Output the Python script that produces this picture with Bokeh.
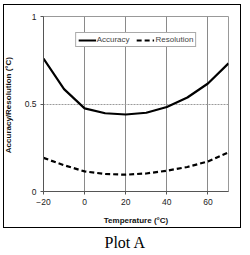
from bokeh.plotting import figure
from bokeh.models import (FixedTicker, Legend, LegendItem, Title, InlineStyleSheet)
from bokeh.embed import file_html
from bokeh.resources import INLINE

temps = [-20, -10, 0, 10, 20, 30, 40, 50, 60, 70]
accuracy = [0.76, 0.585, 0.475, 0.447, 0.44, 0.45, 0.483, 0.537, 0.617, 0.732]
resolution = [0.192, 0.15, 0.115, 0.1, 0.096, 0.103, 0.119, 0.14, 0.172, 0.224]
x_ticks = [-20, 0, 20, 40, 60]
y_ticks = [0, 0.5, 1]
y_tick_labels = {0: "0", 0.5: "0.5", 1: "1"}

p = figure(width=250, height=255, output_backend="svg", toolbar_location=None,
           x_range=(-20, 70), y_range=(0, 1),
           min_border_left=42, min_border_right=22, min_border_top=16, min_border_bottom=64)
p.background_fill_color = "white"
p.border_fill_color = "white"
p.outline_line_color = "#999999"
p.outline_line_width = 1

r1 = p.line(temps, accuracy, line_color="black", line_width=2.2)
r2 = p.line(temps, resolution, line_color="black", line_width=2.2, line_dash="5 3")

p.xaxis.ticker = FixedTicker(ticks=x_ticks)
p.yaxis.ticker = FixedTicker(ticks=y_ticks)
p.yaxis.major_label_overrides = y_tick_labels
for ax in (p.xaxis[0], p.yaxis[0]):
    ax.axis_line_color = "#555555"
    ax.major_tick_line_color = "#555555"
    ax.major_tick_out = 3
    ax.major_tick_in = 0
    ax.minor_tick_line_color = None
    ax.major_label_text_font = "Liberation Sans"
    ax.major_label_text_font_size = "8.5px"
    ax.major_label_text_color = "#222222"
    ax.axis_label_text_font = "Liberation Sans"
    ax.axis_label_text_font_size = "8px"
    ax.axis_label_text_font_style = "bold"
    ax.axis_label_text_color = "#111111"
p.xaxis.axis_label = "Temperature (°C)"
p.yaxis.axis_label = "Accuracy/Resolution  (°C)"
p.xaxis.major_label_standoff = 4
p.xaxis.axis_label_standoff = 8
p.yaxis.major_label_standoff = 4
p.yaxis.axis_label_standoff = 9

p.xgrid.ticker = FixedTicker(ticks=x_ticks)
p.ygrid.ticker = FixedTicker(ticks=y_ticks)
p.xgrid.grid_line_color = "#8a8a8a"
p.ygrid.grid_line_color = "#9a9a9a"
p.ygrid.grid_line_dash = "2 1"

legend = Legend(items=[LegendItem(label="Accuracy", renderers=[r1]),
                       LegendItem(label="Resolution", renderers=[r2])],
                orientation="horizontal", location="top_center")
legend.margin = 16
legend.padding = 2
legend.spacing = 7
legend.label_text_font = "Liberation Sans"
legend.label_text_font_size = "8px"
legend.label_height = 8
legend.glyph_height = 8
legend.glyph_width = 18
legend.label_standoff = 1
legend.border_line_color = "#555555"
legend.border_line_width = 1
legend.background_fill_alpha = 1
p.add_layout(legend, "center")

caption = Title(text="Plot A", align="left", text_font="Liberation Serif",
                text_font_size="16px", text_font_style="normal", text_color="black",
                standoff=8, offset=61)
p.add_layout(caption, "below")

p.stylesheets = [InlineStyleSheet(css="""
:host { position: relative; }
:host::after {
  content: ""; position: absolute; left: 3px; top: 4px;
  width: 236px; height: 222px; border: 1.5px solid black;
  pointer-events: none; box-sizing: content-box;
}
""")]

open("out.html", "w").write(file_html(p, INLINE))
